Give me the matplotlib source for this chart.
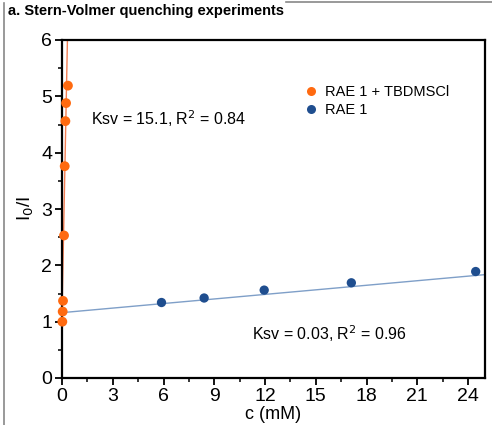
import matplotlib
matplotlib.use("Agg")
import matplotlib.pyplot as plt
import numpy as np
from matplotlib.lines import Line2D

plt.rcParams['font.family'] = ['Liberation Sans', 'DejaVu Sans']

# Data
tb_x = [0.02, 0.04, 0.06, 0.12, 0.16, 0.20, 0.24, 0.35]
tb_y = [1.00, 1.18, 1.37, 2.53, 3.76, 4.56, 4.88, 5.19]
rae_x = [5.88, 8.4, 11.95, 17.1, 24.45]
rae_y = [1.34, 1.42, 1.56, 1.69, 1.89]
tb_fit = (15.1, 1.15)    # slope, intercept
rae_fit = (0.027, 1.16)
labels = ["RAE 1 + TBDMSCl", "RAE 1"]
ann = ["Ksv = 15.1, R$^2$ = 0.84", "Ksv = 0.03, R$^2$ = 0.96"]
xticks = [0, 3, 6, 9, 12, 15, 18, 21, 24]
yticks = [0, 1, 2, 3, 4, 5, 6]

orange = '#ff6a10'
orange_line = '#f27f55'
blue = '#1f4e8f'
blue_line = '#7f9fc8'

W, H = 492, 425
fig = plt.figure(figsize=(W/100, H/100), dpi=100)
ax = fig.add_axes([62/W, 1-378/H, (485-62)/W, (378-40)/H])

xf = np.array([0, 0.5])
ax.plot(xf, tb_fit[0]*xf + tb_fit[1], color=orange_line, lw=1.0, zorder=2)
xb = np.array([0, 25])
ax.plot(xb, rae_fit[0]*xb + rae_fit[1], color=blue_line, lw=1.0, zorder=2)

ax.scatter(tb_x, tb_y, s=50, color=orange, zorder=4, clip_on=False, edgecolors='none')
ax.scatter(rae_x, rae_y, s=45, color=blue, zorder=4, clip_on=False, edgecolors='none')

ax.set_xlim(0, 25)
ax.set_ylim(0, 6)
ax.set_xticks(xticks)
ax.set_yticks(yticks)
ax.set_xticks(np.arange(1.5, 25, 3), minor=True)
ax.set_yticks(np.arange(0.5, 6, 1), minor=True)
ax.tick_params(which='major', direction='out', length=5, width=1.3, labelsize=14, pad=2)
ax.tick_params(which='minor', direction='out', length=3, width=1.1)
for s in ax.spines.values():
    s.set_linewidth(1.6)

ax.set_xlabel("c (mM)", fontsize=13, labelpad=1)
ax.set_ylabel("I$_0$/I", fontsize=13.5, labelpad=4)

ax.text(1.7, 4.6, ann[0], fontsize=11.5, va='center', ha='left')
ax.text(11.2, 0.78, ann[1], fontsize=11.5, va='center', ha='left')

handles = [Line2D([], [], ls='none', marker='o', ms=6.5, color=orange, mec='none'),
           Line2D([], [], ls='none', marker='o', ms=6.5, color=blue, mec='none')]
ax.legend(handles, labels, loc='upper left', bbox_to_anchor=(0.54, 0.905), frameon=False,
          fontsize=10.5, handletextpad=0.5, labelspacing=0.25, handlelength=1.0)

fig.text(8/W, 1-11/H, "a. Stern-Volmer quenching experiments", fontsize=10.5,
         fontweight='bold', va='center', ha='left')
fig.add_artist(Line2D([4/W, 4/W], [0, 1-3/H], color='#888888', lw=1.2))
fig.add_artist(Line2D([286/W, 1], [1-1.5/H, 1-1.5/H], color='#888888', lw=1.2))

fig.savefig("out.png", dpi=100)
